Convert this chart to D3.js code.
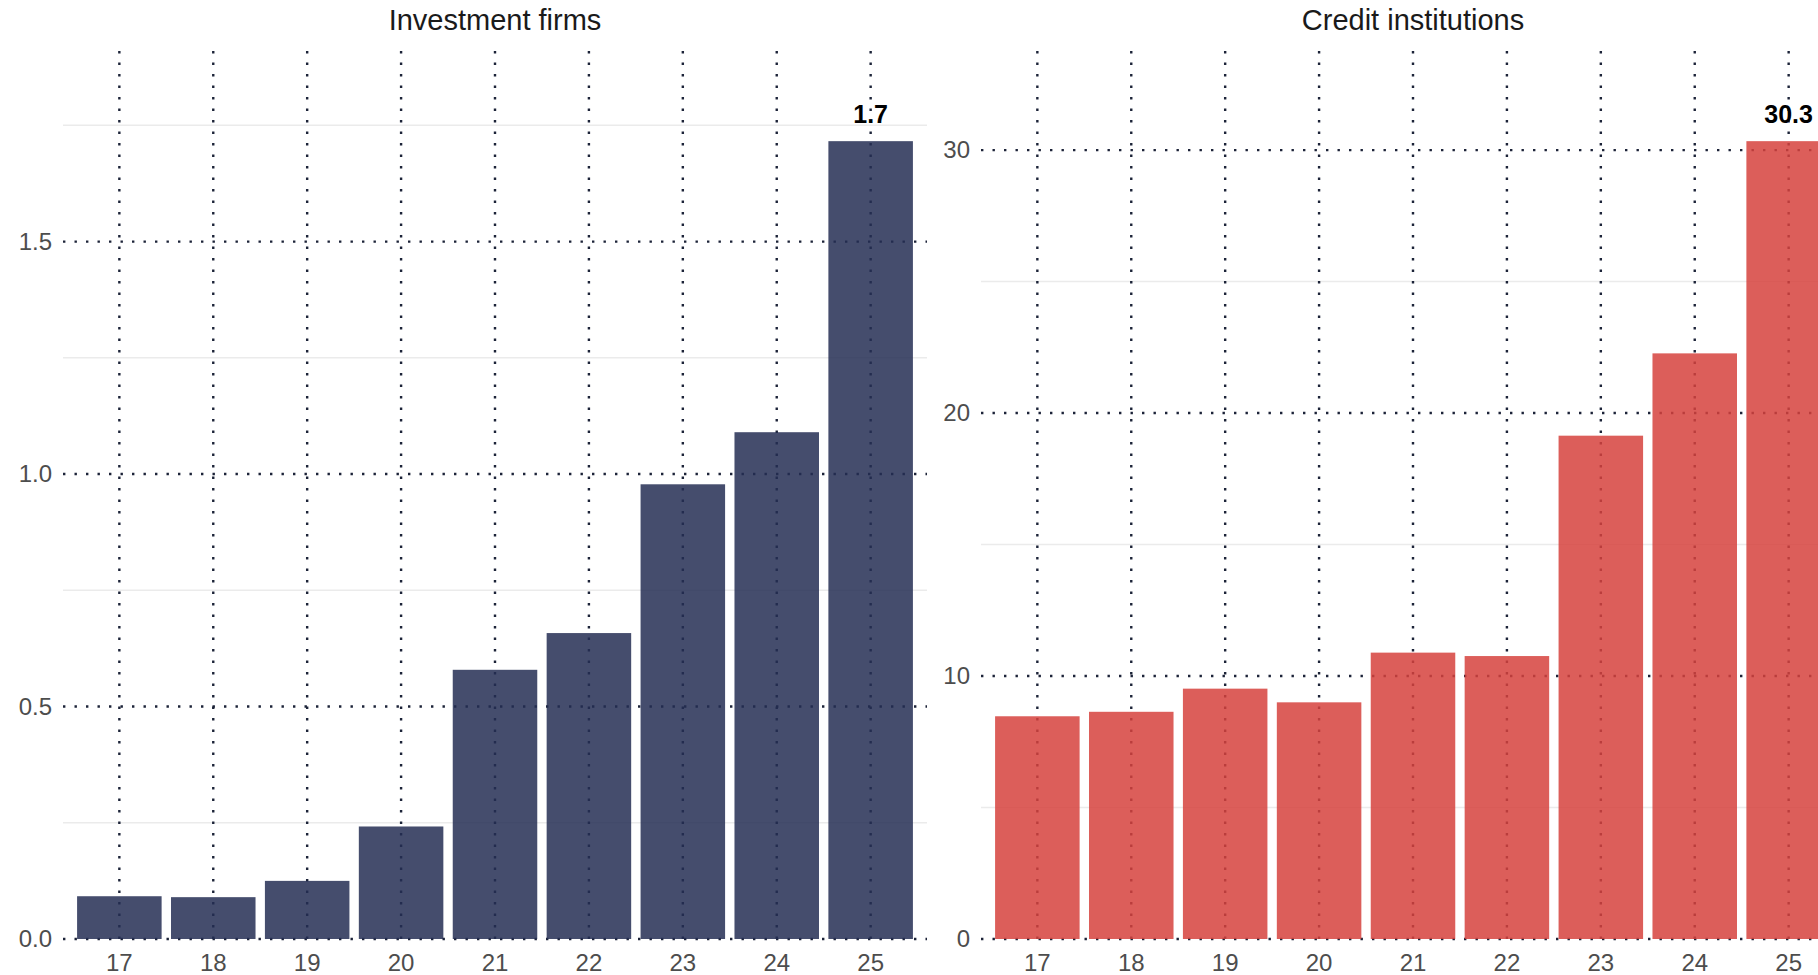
<!DOCTYPE html>
<html>
<head>
<meta charset="utf-8">
<script src="https://cdn.jsdelivr.net/npm/d3@7"></script>
<style>
  body { margin: 0; background: #fff; overflow: hidden; }
  text { font-family: "Liberation Sans", Arial, sans-serif; }
</style>
</head>
<body>
<div class="chart"></div>
<script>
// Data.
const years = ['17', '18', '19', '20', '21', '22', '23', '24', '25'];
const investmentFirms = [0.092, 0.090, 0.125, 0.242, 0.579, 0.658, 0.978, 1.090, 1.716];
const creditInstitutions = [8.47, 8.64, 9.52, 9.00, 10.89, 10.76, 19.14, 22.27, 30.34];
const investmentTicks = [0, 0.5, 1.0, 1.5];
const investmentMinor = [0.25, 0.75, 1.25, 1.75];
const creditTicks = [0, 10, 20, 30];
const creditMinor = [5, 15, 25];

const width = 1818,
      height = 975,
      plotTop = 51,
      plotBottom = 939,
      panelW = 864;

const svg = d3.select('.chart')
  .append('svg')
    .attr('width', width)
    .attr('height', height);

// Draw one facet.
function panel(left, title, values, ticks, minor, fmt, color, label) {
  const x = d3.scaleBand()
    .domain(years)
    .range([left, left + panelW])
    .paddingInner(0.1)
    .paddingOuter(0.15);

  const y = d3.scaleLinear()
    .domain([0, d3.max(values) * 1.113])
    .range([plotBottom, plotTop]);

  const g = svg.append('g');

  // minor grid, solid light
  g.append('g').selectAll('line')
    .data(minor)
    .join('line')
      .attr('x1', left).attr('x2', left + panelW)
      .attr('y1', d => y(d)).attr('y2', d => y(d))
      .attr('stroke', '#ebebeb')
      .attr('stroke-width', 1.5);

  // major grid, dotted
  const dots = {stroke: '#1c2338', 'stroke-width': 2.4, 'stroke-dasharray': '2.4 9.1'};
  const hgrid = g.append('g').selectAll('line')
    .data(ticks)
    .join('line')
      .attr('x1', left).attr('x2', left + panelW)
      .attr('y1', d => y(d)).attr('y2', d => y(d));
  const vgrid = g.append('g').selectAll('line')
    .data(years)
    .join('line')
      .attr('x1', d => x(d) + x.bandwidth() / 2).attr('x2', d => x(d) + x.bandwidth() / 2)
      .attr('y1', plotTop).attr('y2', plotBottom);
  Object.entries(dots).forEach(([k, v]) => { hgrid.attr(k, v); vgrid.attr(k, v); });

  // bars
  g.append('g').selectAll('rect')
    .data(values)
    .join('rect')
      .attr('x', (d, i) => x(years[i]))
      .attr('width', x.bandwidth())
      .attr('y', d => y(d))
      .attr('height', d => y(0) - y(d))
      .attr('fill', color)
      .attr('fill-opacity', 0.85);

  // value label on the last bar
  const last = values.length - 1;
  g.append('text')
    .attr('x', x(years[last]) + x.bandwidth() / 2)
    .attr('y', y(values[last]) - 18)
    .attr('text-anchor', 'middle')
    .attr('font-size', 25)
    .attr('font-weight', 'bold')
    .attr('fill', '#000')
    .text(label);

  // axes (labels only)
  const yAxis = g.append('g')
    .attr('transform', `translate(${left - 11},0)`)
    .call(d3.axisLeft(y).tickValues(ticks).tickFormat(d3.format(fmt)).tickSize(0).tickPadding(0));
  const xAxis = g.append('g')
    .attr('transform', `translate(0,${plotBottom + 15})`)
    .call(d3.axisBottom(x).tickSize(0).tickPadding(0));
  [yAxis, xAxis].forEach(a => {
    a.select('.domain').remove();
    a.selectAll('text')
      .attr('font-size', 24)
      .attr('fill', '#4d4d4d')
      .style('font-family', '"Liberation Sans", Arial, sans-serif');
  });

  // title
  svg.append('text')
    .attr('x', left + panelW / 2)
    .attr('y', 30)
    .attr('text-anchor', 'middle')
    .attr('font-size', 29)
    .attr('fill', '#1a1a1a')
    .text(title);
}

panel(63, 'Investment firms', investmentFirms, investmentTicks, investmentMinor, '.1f', '#242e54', '1.7');
panel(981, 'Credit institutions', creditInstitutions, creditTicks, creditMinor, 'd', '#d6423d', '30.3');
</script>
</body>
</html>
